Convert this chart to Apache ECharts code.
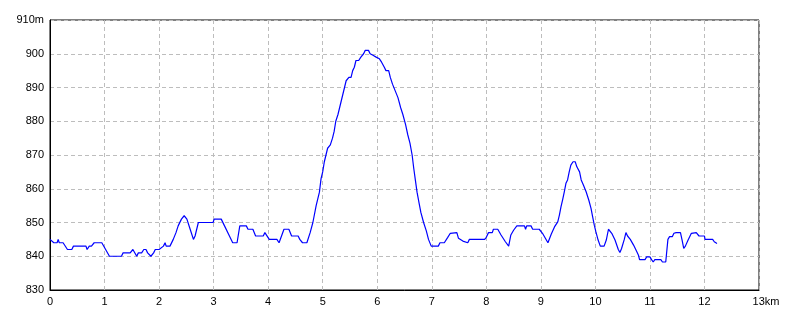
<!DOCTYPE html>
<html>
<head>
<meta charset="utf-8">
<script src="https://cdn.jsdelivr.net/npm/echarts@6/dist/echarts.min.js"></script>
<style>html,body{margin:0;padding:0;background:#fff;}#c{width:800px;height:320px;}</style>
</head>
<body>
<div id="c"></div>
<script>
// distance along the route (km)
const distKm = [
  0.00,0.07,0.13,0.15,0.17,0.24,0.32,0.40,0.43,0.66,0.68,0.72,0.76,0.81,0.95,
  1.09,1.31,1.34,1.47,1.52,1.59,1.62,1.68,1.72,1.76,1.79,1.82,1.85,1.90,1.93,
  2.00,2.08,2.11,2.13,2.20,2.26,2.31,2.35,2.41,2.46,2.51,2.57,2.63,2.66,2.72,2.99,
  3.01,3.14,3.20,3.29,3.35,3.43,3.48,3.60,3.63,3.72,3.77,3.91,3.94,
  4.02,4.16,4.20,4.29,4.38,4.43,4.55,4.58,4.63,4.71,4.77,4.82,4.88,4.94,4.97,
  5.00,5.03,5.06,5.09,5.14,5.18,5.21,5.24,5.28,5.31,5.34,5.37,5.40,5.43,5.48,5.52,
  5.55,5.58,5.61,5.66,5.70,5.75,5.78,5.84,5.87,5.90,5.93,5.98,
  6.04,6.08,6.13,6.16,6.21,6.24,6.28,6.33,6.38,6.43,6.47,6.52,6.56,6.60,6.64,6.67,
  6.70,6.73,6.77,6.80,6.85,6.90,6.94,6.99,
  7.12,7.15,7.23,7.26,7.29,7.34,7.37,7.46,7.49,7.52,7.57,7.66,7.69,7.97,
  8.00,8.04,8.11,8.13,8.21,8.27,8.35,8.41,8.45,8.50,8.56,8.70,8.72,8.74,8.82,8.85,8.97,
  9.03,9.13,9.19,9.25,9.31,9.34,9.37,9.40,9.43,9.46,9.49,9.52,9.55,9.59,9.63,9.66,
  9.71,9.74,9.78,9.83,9.88,9.92,9.95,9.98,
  10.01,10.05,10.09,10.16,10.20,10.24,10.27,10.30,10.36,10.42,10.45,10.48,10.53,10.56,
  10.59,10.64,10.70,10.76,10.79,10.81,10.91,10.94,
  11.00,11.03,11.06,11.09,11.20,11.23,11.29,11.33,11.36,11.41,11.44,11.48,11.56,11.59,
  11.62,11.65,11.70,11.76,11.85,11.90,
  12.00,12.01,12.15,12.18,12.23
];
// elevation (m)
const elevM = [
  845,844,844,845,844,844,842,842,843,843,842,843,843,844,844,
  840,840,841,841,842,840,841,841,842,842,841,841,840,841,842,
  842,843,844,843,843,845,847,849,851,852,851,848,845,846,850,850,
  851,851,849,846,844,844,849,849,848,848,846,846,847,
  845,845,844,848,848,846,846,845,844,844,847,850,855,859,863,
  865,868,870,872,873,875,877,880,882,884,886,888,890,892,893,893,
  895,896,898,898,899,900,901,901,900,900.5,899.5,899,
  898.5,897.5,896,895,895,893,891,889,887,884,882,879,876,873.5,870,866,
  862.5,859,855.5,853,850,847.5,845,843,
  843,844,844,843.5,845.5,846.8,847,847,845.3,845,844.5,844,845,845,
  845.6,847,847,848,848,846.3,844.3,843,846.3,847.7,849,849,848,849,849,848,848,
  846.8,844,846.5,848.7,850.2,852.2,854.7,856.8,859.1,861.6,862.6,865,867,868,868,866.5,
  865,862.6,861.1,859.1,856.6,854.2,851.7,849.2,
  847.2,844.8,843,843,844.8,848,848,846.8,844.8,842,841.1,842.3,845,847,
  846,845,843.3,841.3,840.3,839,839,839.8,
  839.8,839,838.3,839,839,838.3,838.3,845,845.8,845.8,846.8,847,847,844.8,
  842.3,843,844.8,846.8,847,846,
  846,845,845,844.3,843.8
];
const xUnit = 'km';
const yUnit = 'm';
const xMin = 0, xMax = 13, xStep = 1;
const yMin = 830, yMax = 910, yStep = 10;

const pts = distKm.map((d, i) => [d, elevM[i]]);
const font = '"Liberation Sans", Arial, sans-serif';
const chart = echarts.init(document.getElementById('c'), null, {renderer: 'canvas'});
chart.setOption({
  animation: false,
  backgroundColor: '#fff',
  grid: {left: 50, right: 41, top: 20, bottom: 30, show: true, borderColor: '#000', borderWidth: 1, backgroundColor: 'transparent'},
  xAxis: {
    type: 'value', min: xMin, max: xMax, interval: xStep,
    axisLine: {show: true, lineStyle: {color: '#000', width: 1}},
    axisTick: {show: false},
    splitLine: {show: true, lineStyle: {color: '#bdbdbd', type: [4, 3], width: 1}},
    axisLabel: {
      margin: 6, color: '#000', fontSize: 11, fontFamily: font,
      formatter: v => v === xMax ? '{u|' + v + xUnit + '}' : String(v),
      rich: {u: {color: '#000', fontSize: 11, fontFamily: font, padding: [0, 0, 0, 14]}}
    }
  },
  yAxis: {
    type: 'value', min: yMin, max: yMax, interval: yStep,
    axisLine: {show: true, lineStyle: {color: '#000', width: 1}},
    axisTick: {show: false},
    splitLine: {show: true, lineStyle: {color: '#bdbdbd', type: [4, 3], width: 1}},
    axisLabel: {
      margin: 6, color: '#000', fontSize: 11, fontFamily: font,
      formatter: v => v === yMax ? v + yUnit : String(v)
    }
  },
  series: [{
    type: 'line', data: pts, showSymbol: false, symbol: 'none', smooth: false,
    lineStyle: {color: '#0000ff', width: 1.2}
  }]
});
</script>
</body>
</html>
